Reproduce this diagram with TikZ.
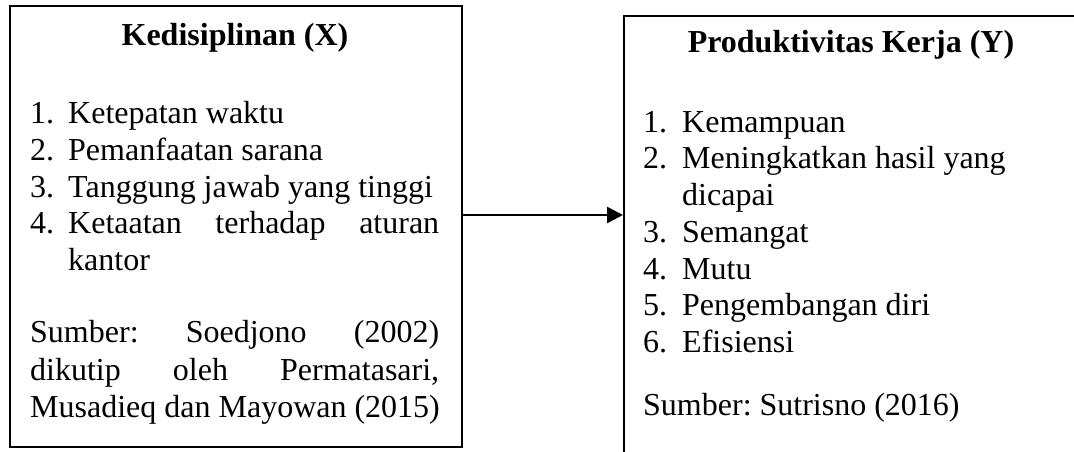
\documentclass[tikz,border=0pt]{standalone}
\usepackage{fontspec}
\setmainfont{Liberation Serif}
\usetikzlibrary{arrows.meta}
\frenchspacing
\begin{document}
\begin{tikzpicture}[x=1pt,y=-1pt,
 boxstyle/.style={draw=black,line width=1.8pt,rectangle,inner sep=0pt,anchor=north west},
 txt/.style={anchor=base west,inner sep=0pt,font=\fontsize{32}{36.8}\selectfont},
 ttl/.style={anchor=base,inner sep=0pt,font=\fontsize{32}{36.8}\selectfont\bfseries},
 arr/.style={line width=2.6pt,-{Triangle[length=16pt,width=16pt]}}]
\useasboundingbox (0,0) rectangle (1074,452);
\clip (0,0) rectangle (1074,452);
% boxes
\node[boxstyle,minimum width=452pt,minimum height=441pt] (lbox) at (9,5) {};
\node[boxstyle,minimum width=457pt,minimum height=460pt] (rbox) at (623,15) {};
% left box text
\node[ttl] (ltitle) at (235,46) {Kedisiplinan (X)};
\node[txt] (ln1) at (30,123) {1.};
\node[txt] (lt1) at (68,123) {Ketepatan waktu};
\node[txt] (ln2) at (30,160) {2.};
\node[txt] (lt2) at (68,160) {Pemanfaatan sarana};
\node[txt] (ln3) at (30,197) {3.};
\node[txt] (lt3) at (68,197) {Tanggung jawab yang tinggi};
\node[txt] (ln4) at (30,233) {4.};
\node[txt] (lt4) at (68,233) {\makebox[371pt][s]{Ketaatan terhadap aturan}};
\node[txt] (lt4b) at (68,270) {kantor};
\node[txt] (ls1) at (30,342) {\makebox[409pt][s]{Sumber: Soedjono (2002)}};
\node[txt] (ls2) at (30,380) {\makebox[409pt][s]{dikutip oleh Permatasari,}};
\node[txt] (ls3) at (30,417) {Musadieq dan Mayowan (2015)};
% right box text
\node[ttl] (rtitle) at (851,53) {Produktivitas Kerja (Y)};
\node[txt] (rn1) at (643,132) {1.};
\node[txt] (rt1) at (682,132) {Kemampuan};
\node[txt] (rn2) at (643,168) {2.};
\node[txt] (rt2) at (682,168) {Meningkatkan hasil yang};
\node[txt] (rt2b) at (682,205) {dicapai};
\node[txt] (rn3) at (643,242) {3.};
\node[txt] (rt3) at (682,242) {Semangat};
\node[txt] (rn4) at (643,279) {4.};
\node[txt] (rt4) at (682,279) {Mutu};
\node[txt] (rn5) at (643,315) {5.};
\node[txt] (rt5) at (682,315) {Pengembangan diri};
\node[txt] (rn6) at (643,352) {6.};
\node[txt] (rt6) at (682,352) {Efisiensi};
\node[txt] (rs1) at (643,415) {Sumber: Sutrisno (2016)};
% arrow
\coordinate (ay) at (0,215);
\draw[arr] (lbox.east |- ay) -- (rbox.west |- ay);
\end{tikzpicture}
\end{document}
